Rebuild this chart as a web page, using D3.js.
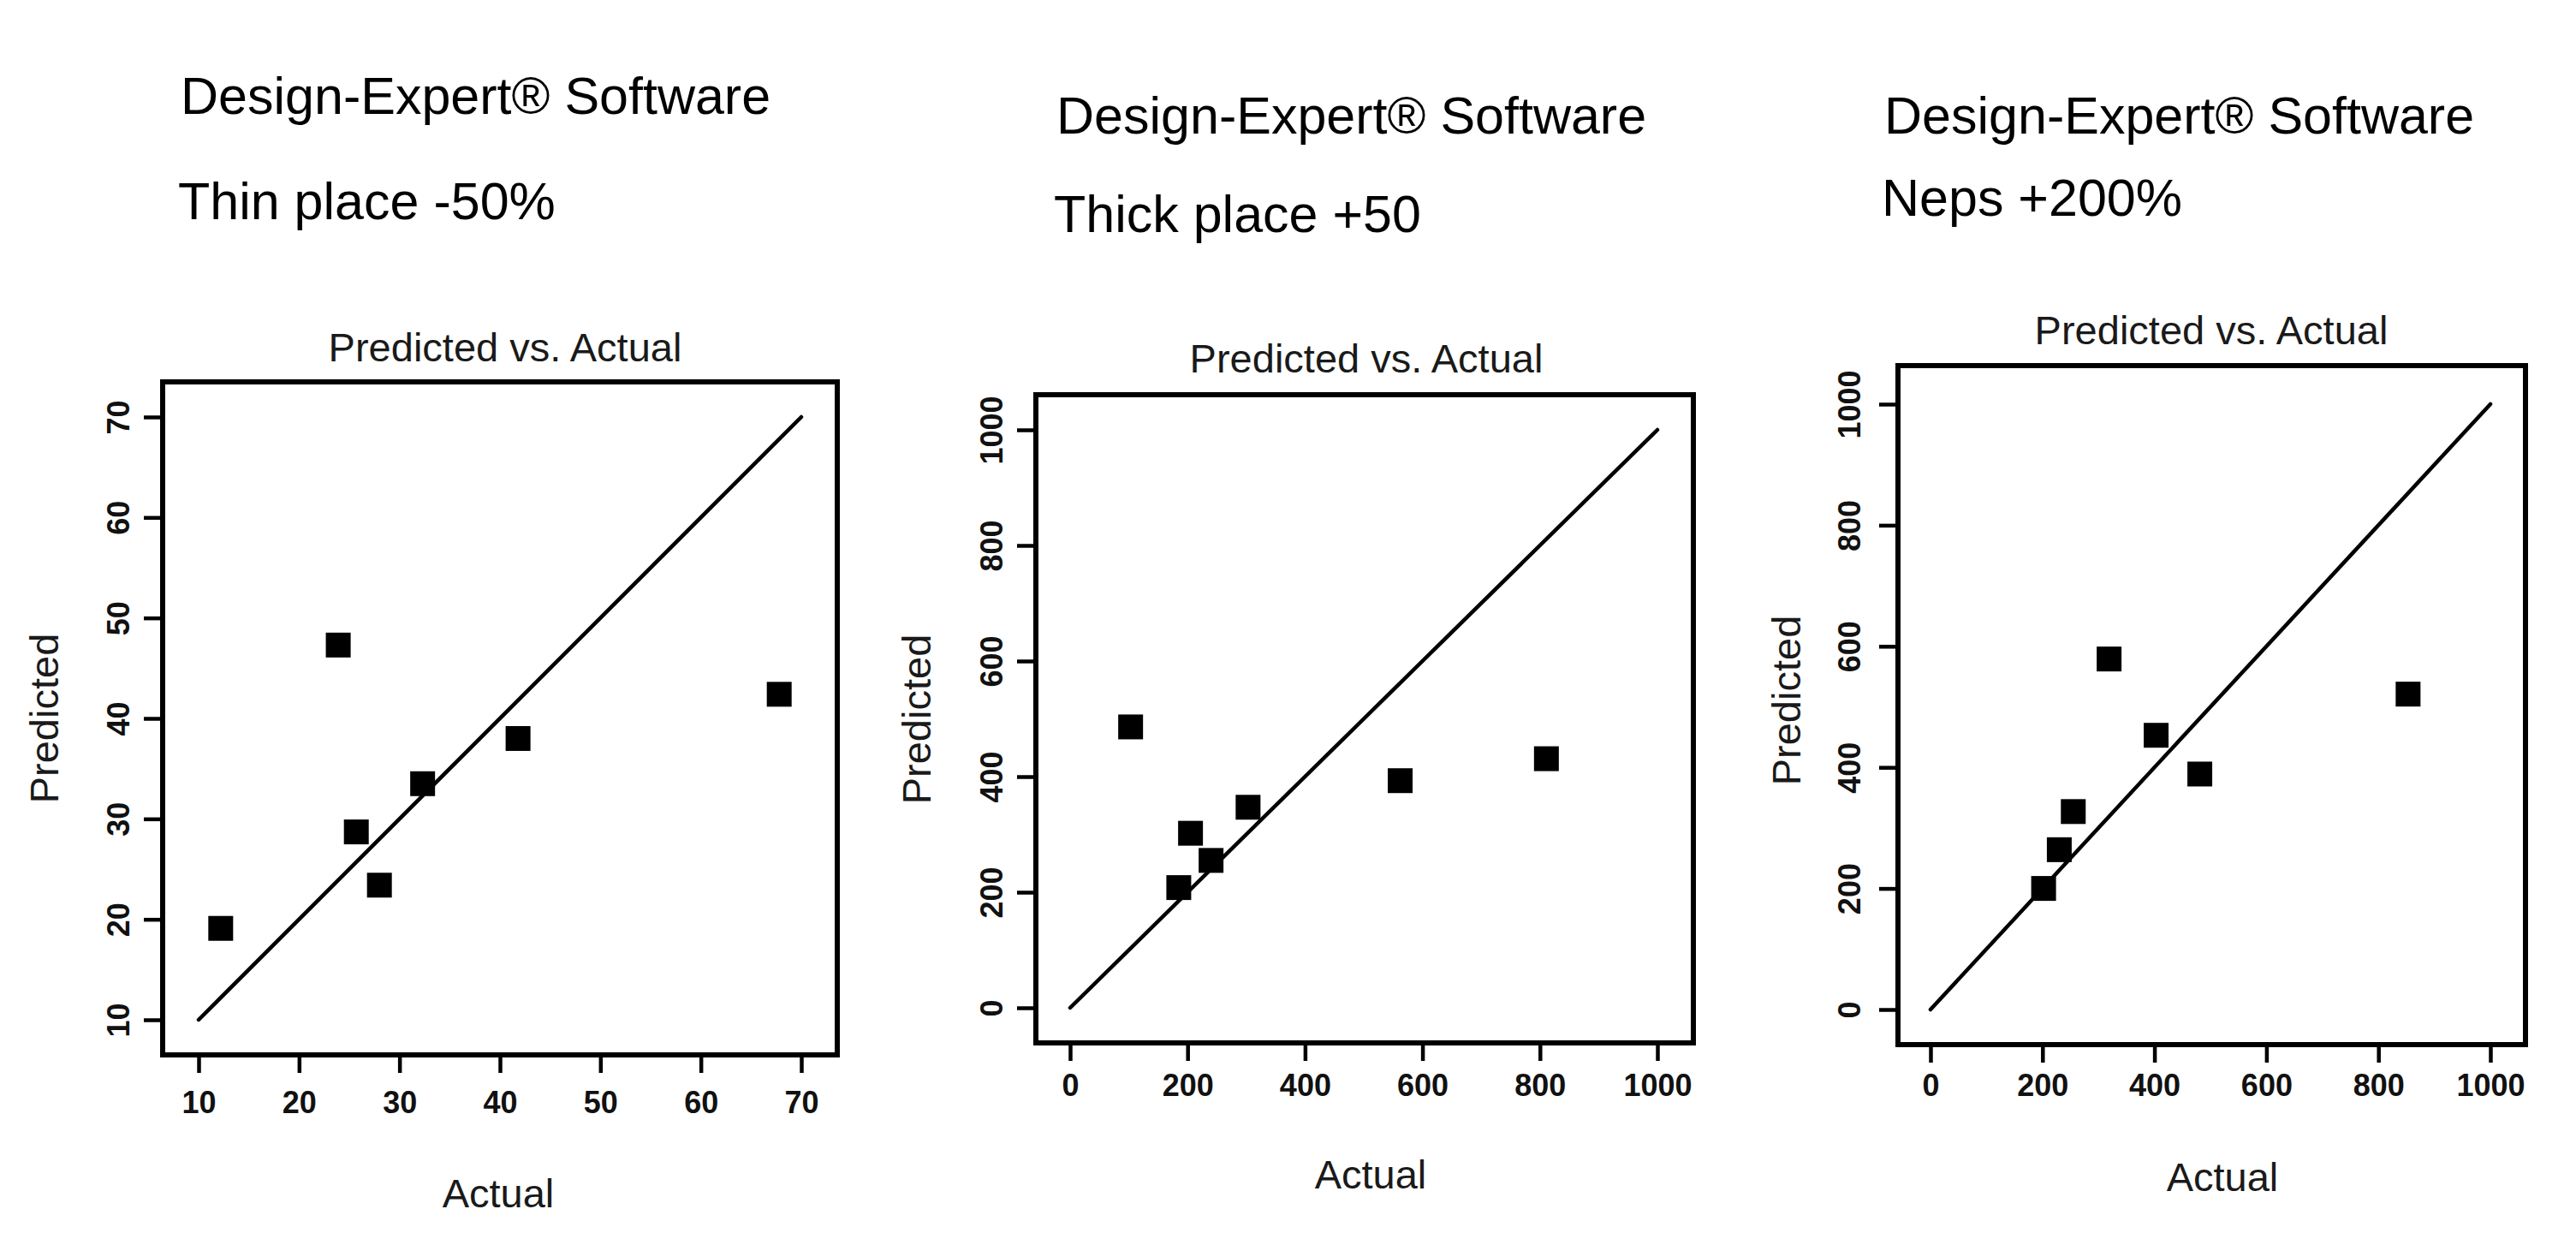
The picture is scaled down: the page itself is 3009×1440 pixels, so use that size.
<!DOCTYPE html>
<html>
<head>
<meta charset="utf-8">
<script src="https://cdn.jsdelivr.net/npm/d3@7"></script>
<style>
  html, body { margin: 0; padding: 0; background: #fff; }
  svg { display: block; }
  text { font-family: "Liberation Sans", Arial, Helvetica, sans-serif; }
</style>
</head>
<body>
<svg id="chart" width="3009" height="1440"></svg>
<script>
// ---------------- data ----------------
const headerLine = "Design-Expert\u00AE Software";
const responseNames = ["Thin place -50%", "Thick place +50", "Neps +200%"];
const plotTitle = "Predicted vs. Actual";
const xLabel = "Actual";
const yLabel = "Predicted";

const thinActual    = [12.2, 23.9, 25.7, 28.0, 32.3, 41.8, 67.8];
const thinPredicted = [19.1, 47.3, 28.7, 23.4, 33.5, 38.0, 42.4];

const thickActual    = [103, 185, 205, 240, 303, 562, 811];
const thickPredicted = [486, 208, 302, 255, 347, 393, 431];

const nepsActual    = [202, 230, 255, 319, 403, 481, 853];
const nepsPredicted = [200, 264, 327, 579, 453, 389, 521];

const thinTicks = [10, 20, 30, 40, 50, 60, 70];
const countTicks = [0, 200, 400, 600, 800, 1000];

// ---------------- layout ----------------
const panels = [
  { name: responseNames[0], actual: thinActual, predicted: thinPredicted, ticks: thinTicks,
    frame: { l: 190, r: 978, t: 446, b: 1232 },
    xr: [232, 936], yr: [1191, 487],
    head: { x: 211, y1: 133, y2: 256 },
    title: { x: 590, y: 422 }, xl: { x: 582, y: 1410 }, yl: { x: 52, y: 839 },
    ytl: 52, xtl: 55 },
  { name: responseNames[1], actual: thickActual, predicted: thickPredicted, ticks: countTicks,
    frame: { l: 1210, r: 1978, t: 461, b: 1218 },
    xr: [1250, 1936], yr: [1177, 502],
    head: { x: 1234, y1: 156, y2: 271 },
    title: { x: 1596, y: 435 }, xl: { x: 1601, y: 1388 }, yl: { x: 1071, y: 840 },
    ytl: 52, xtl: 49 },
  { name: responseNames[2], actual: nepsActual, predicted: nepsPredicted, ticks: countTicks,
    frame: { l: 2217, r: 2950, t: 427, b: 1220 },
    xr: [2255, 2909], yr: [1179, 472],
    head: { x: 2201, y1: 156, y2: 252 },
    title: { x: 2583, y: 402 }, xl: { x: 2596, y: 1391 }, yl: { x: 2087, y: 818 },
    ytl: 57, xtl: 47 }
];

const svg = d3.select("#chart");
svg.append("rect").attr("width", 3009).attr("height", 1440).attr("fill", "#fff");

panels.forEach(p => {
  const g = svg.append("g");
  const dom = d3.extent(p.ticks);
  const x = d3.scaleLinear().domain(dom).range(p.xr);
  const y = d3.scaleLinear().domain(dom).range(p.yr);

  // header texts
  g.append("text").attr("x", p.head.x).attr("y", p.head.y1)
    .attr("font-size", 61).attr("fill", "#000").text(headerLine);
  g.append("text").attr("x", p.head.x - 3).attr("y", p.head.y2)
    .attr("font-size", 61).attr("fill", "#000").text(p.name);

  // plot title
  g.append("text").attr("x", p.title.x).attr("y", p.title.y)
    .attr("text-anchor", "middle").attr("font-size", 47).attr("fill", "#1a1a1a")
    .text(plotTitle);

  // axis labels
  g.append("text").attr("x", p.xl.x).attr("y", p.xl.y)
    .attr("text-anchor", "middle").attr("font-size", 47).attr("fill", "#1a1a1a")
    .text(xLabel);
  g.append("text")
    .attr("transform", `translate(${p.yl.x},${p.yl.y}) rotate(-90)`)
    .attr("text-anchor", "middle").attr("dy", "0.35em")
    .attr("font-size", 47).attr("fill", "#1a1a1a")
    .text(yLabel);

  // x axis
  const xAxis = d3.axisBottom(x).tickValues(p.ticks).tickSize(21).tickFormat(d3.format("d"));
  const gx = g.append("g").attr("transform", `translate(0,${p.frame.b})`).call(xAxis);
  gx.select(".domain").remove();
  gx.selectAll(".tick line").attr("stroke", "#000").attr("stroke-width", 4.5);
  gx.selectAll(".tick text")
    .attr("y", p.xtl).attr("dy", "0.35em")
    .attr("font-size", 36).attr("font-weight", "bold").attr("fill", "#111")
    .attr("font-family", "Liberation Sans, Arial, sans-serif");

  // y axis
  const yAxis = d3.axisLeft(y).tickValues(p.ticks).tickSize(22).tickFormat(d3.format("d"));
  const gy = g.append("g").attr("transform", `translate(${p.frame.l},0)`).call(yAxis);
  gy.select(".domain").remove();
  gy.selectAll(".tick line").attr("stroke", "#000").attr("stroke-width", 4.5);
  gy.selectAll(".tick text")
    .attr("x", null).attr("dy", null)
    .attr("transform", `translate(${-p.ytl},0) rotate(-90)`)
    .attr("text-anchor", "middle").attr("dy", "0.35em")
    .attr("font-size", 36).attr("font-weight", "bold").attr("fill", "#111")
    .attr("font-family", "Liberation Sans, Arial, sans-serif");

  // frame
  g.append("rect")
    .attr("x", p.frame.l).attr("y", p.frame.t)
    .attr("width", p.frame.r - p.frame.l).attr("height", p.frame.b - p.frame.t)
    .attr("fill", "none").attr("stroke", "#000").attr("stroke-width", 6);

  // identity line
  g.append("line")
    .attr("x1", x(dom[0])).attr("y1", y(dom[0]))
    .attr("x2", x(dom[1])).attr("y2", y(dom[1]))
    .attr("stroke", "#000").attr("stroke-width", 4.5).attr("stroke-linecap", "round");

  // points
  const s = 29;
  g.selectAll("rect.pt").data(d3.zip(p.actual, p.predicted)).join("rect")
    .attr("class", "pt")
    .attr("x", d => x(d[0]) - s / 2).attr("y", d => y(d[1]) - s / 2)
    .attr("width", s).attr("height", s).attr("fill", "#000");
});
</script>
</body>
</html>
